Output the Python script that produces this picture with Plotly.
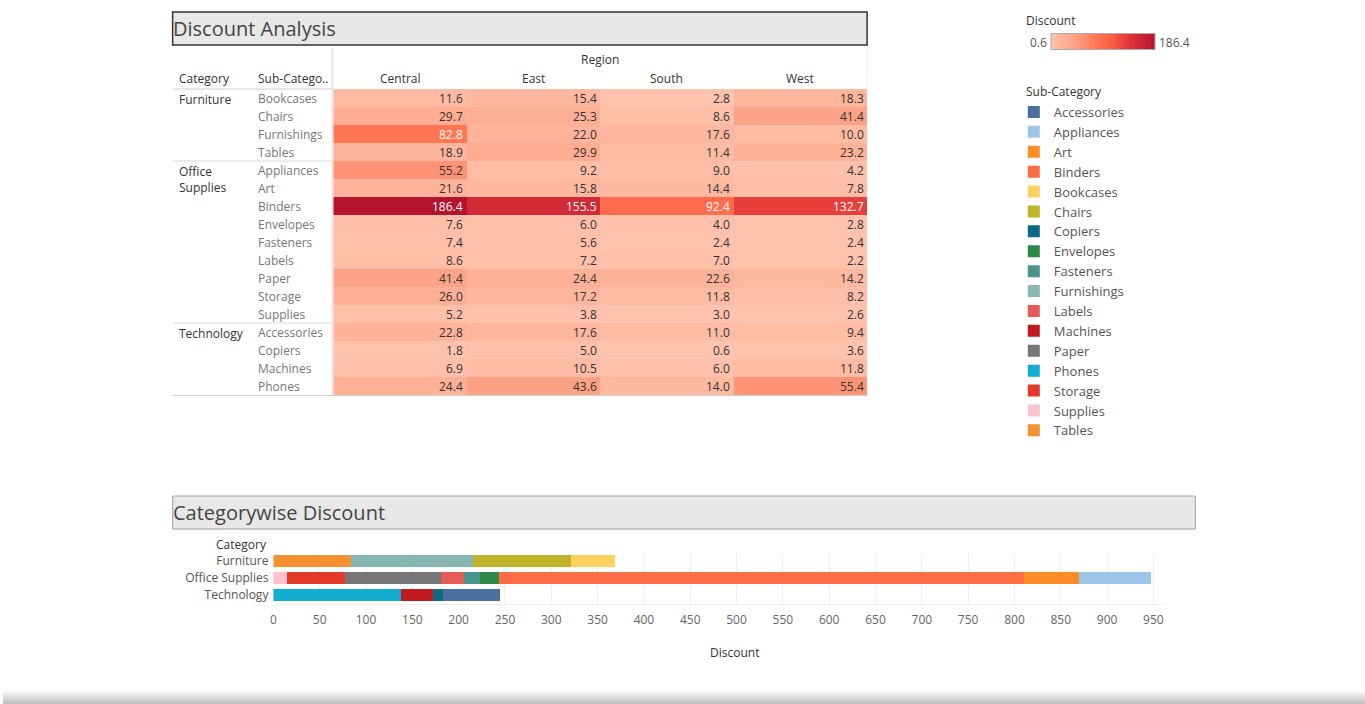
import plotly.graph_objects as go

W, H = 1365, 704
FONT = "Open Sans"

regions = ["Central", "East", "South", "West"]
categories = ["Furniture", "Office Supplies", "Technology"]
category_labels = ["Furniture", "Office<br>Supplies", "Technology"]
subcats = {
    "Furniture": ["Bookcases", "Chairs", "Furnishings", "Tables"],
    "Office Supplies": ["Appliances", "Art", "Binders", "Envelopes", "Fasteners",
                        "Labels", "Paper", "Storage", "Supplies"],
    "Technology": ["Accessories", "Copiers", "Machines", "Phones"],
}
# Discount by sub-category (rows) and region (Central, East, South, West)
central = [11.6, 29.7, 82.8, 18.9, 55.2, 21.6, 186.4, 7.6, 7.4, 8.6, 41.4, 26.0, 5.2, 22.8, 1.8, 6.9, 24.4]
east    = [15.4, 25.3, 22.0, 29.9, 9.2, 15.8, 155.5, 6.0, 5.6, 7.2, 24.4, 17.2, 3.8, 17.6, 5.0, 10.5, 43.6]
south   = [2.8, 8.6, 17.6, 11.4, 9.0, 14.4, 92.4, 4.0, 2.4, 7.0, 22.6, 11.8, 3.0, 11.0, 0.6, 6.0, 14.0]
west    = [18.3, 41.4, 10.0, 23.2, 4.2, 7.8, 132.7, 2.8, 2.4, 2.2, 14.2, 8.2, 2.6, 9.4, 3.6, 11.8, 55.4]

sub_colors = {
    "Accessories": "#4c6fa0", "Appliances": "#9cc5e6", "Art": "#fb8c26",
    "Binders": "#ff6d45", "Bookcases": "#ffd15e", "Chairs": "#c0b42a",
    "Copiers": "#0d6a86", "Envelopes": "#2f8847", "Fasteners": "#4a9590",
    "Furnishings": "#86b7b2", "Labels": "#e45c5a", "Machines": "#c2191f",
    "Paper": "#767676", "Phones": "#12adcf", "Storage": "#e33a2a",
    "Supplies": "#fcc1cc", "Tables": "#f59131",
}

rows = []
row_cat = []
for c in categories:
    for s in subcats[c]:
        rows.append(s)
        row_cat.append(c)
z = [[central[i], east[i], south[i], west[i]] for i in range(len(rows))]
zmin = min(min(r) for r in z)
zmax = max(max(r) for r in z)


def px(x):
    return x / W


def py(y):
    return 1 - y / H


fig = go.Figure()

colorscale = [[0.0, "#ffc4ae"], [0.22, "#fda387"], [0.45, "#ff7450"],
              [0.6, "#f85a42"], [0.75, "#e0363a"], [1.0, "#b5142f"]]

fig.add_trace(go.Heatmap(
    z=z, x=list(range(4)), y=list(range(len(rows))),
    colorscale=colorscale, zmin=zmin, zmax=zmax,
    xaxis="x", yaxis="y", hoverinfo="z",
    colorbar=dict(orientation="h", lenmode="pixels", len=104, thickness=16,
                  x=px(1102), xanchor="center", y=py(42), yanchor="middle",
                  xpad=0, ypad=0, showticklabels=False, ticks="",
                  outlinewidth=1, outlinecolor="#aaaaaa"),
))

# stacked bars (trace order reverse alphabetical so stacking matches)
all_subs = sorted(rows)
for s in reversed(all_subs):
    i = rows.index(s)
    total = central[i] + east[i] + south[i] + west[i]
    xs = [total if row_cat[i] == c else 0 for c in categories]
    fig.add_trace(go.Bar(
        y=categories, x=xs, orientation="h", name=s,
        marker=dict(color=sub_colors[s], line=dict(width=0)),
        xaxis="x2", yaxis="y2",
    ))


def pa(x, y, text, xa="left", size=12, color="#333333", **kw):
    return dict(x=px(x), y=py(y), xref="paper", yref="paper", text=text,
                xanchor=xa, yanchor="middle", showarrow=False,
                font=dict(size=size, color=color), **kw)


ann = []
# cell values
for r in range(len(rows)):
    for c in range(4):
        v = z[r][c]
        ann.append(dict(x=c + 0.49, y=r, xref="x", yref="y", text=f"{v:.1f}",
                        xanchor="right", yanchor="middle", showarrow=False,
                        font=dict(size=12, color="#ffffff" if v > 60 else "#333333")))
    ann.append(dict(x=px(254), y=r, xref="paper", yref="y", text=rows[r],
                    xanchor="left", yanchor="middle", showarrow=False,
                    font=dict(size=12, color="#777777")))
# category labels
for c, lab in zip(categories, category_labels):
    r0 = row_cat.index(c)
    ann.append(dict(x=px(174), y=r0 - 0.5, xref="paper", yref="y", text=lab,
                    xanchor="left", yanchor="top", showarrow=False, align="left",
                    font=dict(size=12, color="#333333")))
# column headers
for c, reg in enumerate(regions):
    ann.append(dict(x=c, y=py(79), xref="x", yref="paper", text=reg,
                    xanchor="center", yanchor="middle", showarrow=False,
                    font=dict(size=12, color="#333333")))
ann += [
    pa(598, 60, "Region", xa="center"),
    pa(174, 79, "Category"),
    pa(254, 79, "Sub-Catego.."),
    pa(168, 28.5, "Discount Analysis", size=20, color="#444444"),
    pa(168, 512.5, "Categorywise Discount", size=20, color="#444444"),
    pa(1023, 20, "Discount"),
    pa(1048, 42, f"{zmin:.1f}", xa="right", color="#555555"),
    pa(1157, 42, f"{zmax:.1f}", color="#555555"),
    pa(1023, 91, "Sub-Category"),
    pa(267, 544, "Category", xa="right"),
    pa(733, 652, "Discount", xa="center"),
]

shapes = [
    dict(type="rect", xref="paper", yref="paper", x0=px(170), x1=px(866),
         y0=py(45), y1=py(12), fillcolor="#e8e8e8", line=dict(color="#333333", width=1.5)),
    dict(type="rect", xref="paper", yref="paper", x0=px(170), x1=px(1195),
         y0=py(529), y1=py(496), fillcolor="#e8e8e8", line=dict(color="#a0a0a0", width=1)),
    dict(type="line", xref="paper", yref="paper", x0=px(330), x1=px(330),
         y0=py(48), y1=py(395), line=dict(color="#d8d8d8", width=1)),
    dict(type="line", xref="paper", yref="paper", x0=px(866), x1=px(866),
         y0=py(48), y1=py(89), line=dict(color="#eeeeee", width=1)),
    dict(type="line", xref="paper", yref="paper", x0=px(170), x1=px(330),
         y0=py(89), y1=py(89), line=dict(color="#d0d0d0", width=1)),
    dict(type="line", xref="paper", yref="paper", x0=px(170), x1=px(330),
         y0=py(161), y1=py(161), line=dict(color="#d8d8d8", width=1)),
    dict(type="line", xref="paper", yref="paper", x0=px(170), x1=px(330),
         y0=py(323), y1=py(323), line=dict(color="#d8d8d8", width=1)),
    dict(type="line", xref="paper", yref="paper", x0=px(170), x1=px(866),
         y0=py(395.5), y1=py(395.5), line=dict(color="#d0d0d0", width=1)),
]
# window shadow at the bottom
greys = ["#fafafa", "#f2f2f2", "#e8e8e8", "#dedede", "#d4d4d4", "#cacaca", "#c2c2c2", "#bcbcbc"]
for k, g in enumerate(greys):
    shapes.append(dict(type="rect", xref="paper", yref="paper", x0=0, x1=1,
                       y0=py(690 + 2 * k + 2), y1=py(690 + 2 * k),
                       fillcolor=g, line=dict(width=0), layer="below"))

fig.update_layout(
    width=W, height=H, margin=dict(l=0, r=0, t=0, b=0),
    paper_bgcolor="white", plot_bgcolor="white",
    font=dict(family=FONT, size=12, color="#555555"),
    barmode="stack", bargap=0.24,
    xaxis=dict(domain=[px(331), px(866)], range=[-0.5, 3.5], visible=False, fixedrange=True),
    yaxis=dict(domain=[py(395), py(89)], range=[len(rows) - 0.5, -0.5], visible=False),
    xaxis2=dict(domain=[px(271), px(1165)], range=[0, 963], anchor="y2",
                tickvals=list(range(0, 951, 50)), showgrid=True, gridcolor="#f0f0f0",
                showline=True, linecolor="#eeeeee", zeroline=False,
                tickfont=dict(size=12, color="#666666"), ticklabelstandoff=5),
    yaxis2=dict(domain=[py(603.5), py(552.5)], anchor="x2", type="category",
                categoryorder="array", categoryarray=categories, autorange="reversed",
                showgrid=False, zeroline=False, ticks="",
                tickfont=dict(size=12, color="#555555"), ticklabelstandoff=4),
    showlegend=True,
    legend=dict(x=px(1013), y=py(97), xanchor="left", yanchor="top",
                traceorder="reversed", font=dict(size=13, color="#555555"),
                tracegroupgap=0, bgcolor="rgba(0,0,0,0)"),
    annotations=ann, shapes=shapes,
)

post = ("document.documentElement.style.margin='0';"
        "document.body.style.margin='0';document.body.style.padding='0';"
        "document.body.style.overflow='hidden';"
        "var d=document.getElementById('{plot_id}');"
        "d.style.position='absolute';d.style.left='0px';d.style.top='0px';")
fig.write_html("out.html", config={"displayModeBar": False}, post_script=post)
